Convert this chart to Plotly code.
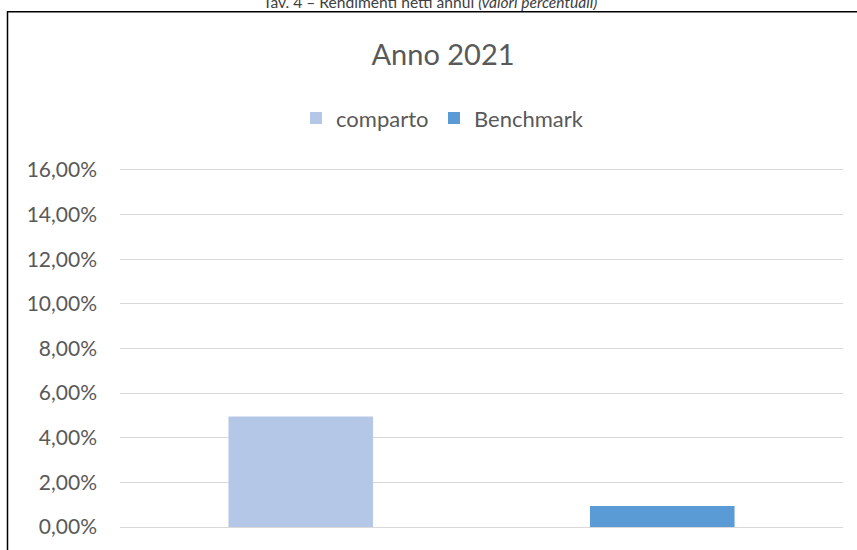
import plotly.graph_objects as go

categories = ["comparto", "Benchmark"]
series_names = ["comparto", "Benchmark"]
values = [4.95, 0.94]
colors = ["#B4C7E7", "#5B9BD5"]
tick_vals = [0, 2, 4, 6, 8, 10, 12, 14, 16]
tick_text = ["0,00%", "2,00%", "4,00%", "6,00%", "8,00%", "10,00%", "12,00%", "14,00%", "16,00%"]

FONT = "Lato"
GREY = "#595959"
entry_widths = [93, 130]

fig = go.Figure()
for i, name in enumerate(series_names):
    fig.add_trace(go.Bar(
        x=[categories[i]], y=[values[i]], name=name,
        marker=dict(color=colors[i], line=dict(width=0)),
        legendwidth=entry_widths[i],
    ))

W, H = 857, 550
L, R, T, B = 120, 14, 167, 21
pw, ph = W - L - R, H - T - B

def px(x):
    return (x - L) / pw

def py(y):
    return 1 - (y - T) / ph

fig.update_layout(
    width=W, height=H,
    margin=dict(l=L, r=R, t=T, b=B),
    paper_bgcolor="white", plot_bgcolor="white",
    barmode="overlay", bargap=0.6,
    font=dict(family=FONT, color=GREY, size=15),
    showlegend=True,
    legend=dict(orientation="h", x=px(296), xanchor="left", y=py(118), yanchor="middle",
                font=dict(size=22, color=GREY), traceorder="normal", itemwidth=30),
    xaxis=dict(showticklabels=False, showgrid=False, zeroline=False, showline=False, ticks=""),
    yaxis=dict(range=[0, 16.13], tickvals=tick_vals, ticktext=tick_text, showgrid=True,
               gridcolor="#D9D9D9", gridwidth=1.3, zeroline=True, zerolinecolor="#D9D9D9",
               zerolinewidth=1.3, showline=False,
               ticks="", ticklabelstandoff=22, tickfont=dict(size=21, color=GREY)),
    title=dict(text="Anno 2021", x=px(443), xanchor="center", xref="paper",
               y=1 - 55 / H, yanchor="middle", font=dict(size=29, color=GREY)),
)

fig.add_annotation(text="Tav. 4 – Rendimenti netti annui <i>(valori percentuali)</i>",
                   xref="paper", yref="paper", x=px(430), y=py(12), xanchor="center",
                   yanchor="bottom", showarrow=False, font=dict(size=15.6, color="#404040"))

fig.add_shape(type="rect", xref="paper", yref="paper",
              x0=px(7.5), x1=px(870), y0=py(11), y1=py(570),
              line=dict(color="black", width=1.5), fillcolor="rgba(0,0,0,0)", layer="above")

fig.write_html("out.html", post_script="document.body.style.margin='0';",
               config={"displayModeBar": False})
